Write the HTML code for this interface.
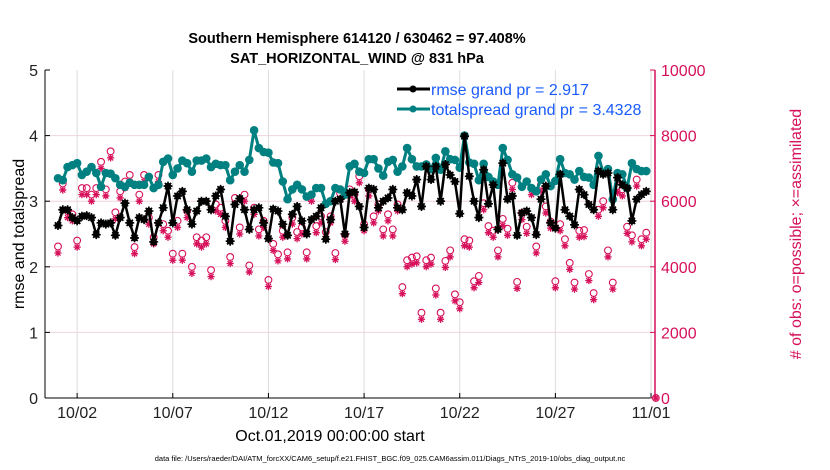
<!DOCTYPE html>
<html><head><meta charset="utf-8"><style>
html,body{margin:0;padding:0;background:#fff;}
svg{display:block;font-family:"Liberation Sans",Arial,sans-serif;}
</style></head><body>
<svg id="chart" width="830" height="470" viewBox="0 0 830 470" xmlns="http://www.w3.org/2000/svg">
<text x="357" y="43" text-anchor="middle" font-size="14.5" font-weight="bold">Southern Hemisphere 614120 / 630462 = 97.408%</text>
<text x="357" y="63" text-anchor="middle" font-size="14.5" font-weight="bold">SAT_HORIZONTAL_WIND @ 831 hPa</text>
<g id="grid"></g>
<g id="marks"></g>
<g id="axes"></g>
<text transform="translate(24,234) rotate(-90)" text-anchor="middle" font-size="16">rmse and totalspread</text>
<text transform="translate(801,234) rotate(-90)" text-anchor="middle" font-size="16" fill="#d6105a"># of obs: o=possible; ×=assimilated</text>
<text x="330" y="441" text-anchor="middle" font-size="16">Oct.01,2019 00:00:00 start</text>
<text x="390" y="461" text-anchor="middle" font-size="7.5">data file: /Users/raeder/DAI/ATM_forcXX/CAM6_setup/f.e21.FHIST_BGC.f09_025.CAM6assim.011/Diags_NTrS_2019-10/obs_diag_output.nc</text>
<g>
<line x1="397" y1="89" x2="430" y2="89" stroke="#000" stroke-width="3"/><circle cx="413" cy="89" r="3.5" fill="#000"/>
<text x="431" y="95" font-size="16" fill="#1a5cff">rmse grand pr = 2.917</text>
<line x1="397" y1="109" x2="430" y2="109" stroke="#008080" stroke-width="3"/><circle cx="413" cy="109" r="3.5" fill="#008080"/>
<text x="431" y="115" font-size="16" fill="#1a5cff">totalspread grand pr = 3.4328</text>
</g>
</svg>
<script>
const rmse=[2.63,2.87,2.87,2.75,2.7,2.77,2.78,2.75,2.49,2.67,2.65,2.67,2.48,2.75,2.97,2.67,2.44,2.75,2.72,2.85,2.38,2.67,2.9,3.23,2.67,3.08,3.15,2.87,2.65,2.85,3.0,3.0,2.87,3.08,3.18,2.77,2.39,2.95,3.04,2.87,2.57,
2.87,2.9,2.67,2.43,2.88,2.85,2.65,2.48,2.8,2.92,2.7,2.5,2.72,2.77,2.9,2.42,2.72,3.0,3.03,2.5,3.13,3.14,2.92,2.6,3.2,3.18,2.9,3.0,3.05,3.18,2.9,2.87,3.13,3.08,3.33,2.92,3.53,3.33,3.53,3.0,3.56,
3.4,3.3,2.81,3.99,3.38,3.0,2.75,3.48,2.96,3.25,2.57,3.58,3.03,3.08,2.48,2.82,2.85,2.75,2.49,3.03,3.23,2.67,2.59,3.41,2.87,2.77,2.64,3.18,3.1,2.95,2.87,3.46,3.41,3.43,2.87,3.36,3.25,3.2,2.7,3.03,3.1,3.15];
const spread=[3.35,3.32,3.52,3.55,3.58,3.4,3.45,3.52,3.43,3.22,3.43,3.42,3.35,3.25,3.22,3.28,3.25,3.25,3.25,3.37,3.2,3.25,3.6,3.65,3.4,3.5,3.62,3.58,3.45,3.62,3.62,3.65,3.52,3.57,3.55,3.55,3.32,3.45,3.55,3.45,3.63,
4.08,3.81,3.75,3.74,3.59,3.58,3.3,3.03,3.18,3.25,3.18,3.07,3.1,3.2,3.2,2.96,3.0,3.2,3.18,3.1,3.53,3.57,3.45,3.43,3.64,3.64,3.5,3.39,3.6,3.63,3.45,3.53,3.81,3.64,3.53,3.53,3.56,3.49,3.66,3.48,3.76,
3.64,3.63,3.51,4.0,3.59,3.57,3.32,3.57,3.37,3.3,3.25,3.81,3.63,3.41,3.36,3.22,3.3,3.2,3.15,3.33,3.41,3.23,3.31,3.64,3.43,3.41,3.33,3.46,3.37,3.36,3.25,3.69,3.43,3.49,3.03,3.43,3.41,3.2,3.58,3.49,3.46,3.46];
const obsPossible=[4620,6540,5700,5600,4800,6400,6400,6200,6400,7200,6360,7520,5660,6300,6600,6800,4600,6200,6800,5500,4900,6800,5300,5100,4400,5400,4400,5700,4000,4900,4800,4900,3900,5900,5800,5400,4300,6100,5200,6200,4040,
5800,5140,5400,3600,4700,4380,5100,4440,5500,5060,5200,4440,6200,5240,5540,5060,5540,4420,6240,4980,6360,6200,6760,5300,6360,5540,5900,5140,5600,5140,5900,3380,4200,4280,4320,2600,4200,4280,3340,2600,4180,
4500,3160,2920,4840,4800,3560,3720,5940,5240,5100,4500,5460,5160,6560,3540,5640,5220,6400,4620,6500,5840,5380,3560,5300,4840,4120,3520,5100,5120,3780,3200,5740,6000,4500,3520,6460,6360,5220,4960,6660,4840,5040,0];
const obsAssim=[4420,6340,5500,5400,4600,6200,6200,6000,6200,7000,6160,7320,5460,6100,6400,6600,4400,6000,6600,5300,4700,6600,5100,4900,4200,5200,4200,5500,3800,4700,4600,4700,3700,5700,5600,5200,4100,5900,5000,6000,3840,
5600,4940,5200,3400,4500,4180,4900,4240,5300,4860,5000,4240,6000,5040,5340,4860,5340,4220,6040,4780,6160,6000,6560,5100,6160,5340,5700,4940,5400,4940,5700,3180,4000,4080,4120,2400,4000,4080,3140,2400,3980,
4300,2960,2720,4640,4600,3360,3520,5740,5040,4900,4300,5260,4960,6360,3340,5440,5020,6200,4420,6300,5640,5180,3360,5100,4640,3920,3320,4900,4920,3580,3000,5540,5800,4300,3320,6260,6160,5020,4760,6460,4640,4840,0];
const xTickDays=[1,6,11,16,21,26,31];
const xTickLabels=["10/02","10/07","10/12","10/17","10/22","10/27","11/01"];
const yTicks=[0,1,2,3,4,5];
const yRightTicks=[0,2000,4000,6000,8000,10000];

const NS="http://www.w3.org/2000/svg";
const L=45,R=655,T=70,B=398;
const xs=d=>58+d*19.13;
const ys=v=>B-(v/5)*(B-T);
const yr=v=>B-(v/10000)*(B-T);
function mk(tag,attrs,parent){const e=document.createElementNS(NS,tag);for(const k in attrs)e.setAttribute(k,attrs[k]);parent.appendChild(e);return e;}
const grid=document.getElementById('grid'),marks=document.getElementById('marks'),axes=document.getElementById('axes');
yTicks.forEach(v=>{if(v>0&&v<5){const g=mk('line',{x1:L,x2:R,y1:ys(v),y2:ys(v),stroke:'#f0d4de','stroke-width':1},grid);

}});
xTickDays.forEach(d=>{const g=mk('line',{x1:xs(d),x2:xs(d),y1:T,y2:B,stroke:'#dcdcdc','stroke-width':1},grid);

});
function starPath(cx,cy,s){let p='';for(let k=0;k<4;k++){const a=k*Math.PI/4;const dx=Math.cos(a)*s,dy=Math.sin(a)*s;p+='M'+(cx-dx)+' '+(cy-dy)+'L'+(cx+dx)+' '+(cy+dy);}return p;}
obsPossible.forEach((v,i)=>{const d=i<124?i*0.25:31.25;const c=mk('circle',{cx:xs(d),cy:yr(v),r:3.4,fill:'none',stroke:'#d6105a','stroke-width':1.1},marks);

});
obsAssim.forEach((v,i)=>{const d=i<124?i*0.25:31.25;const t=mk('path',{d:starPath(xs(d),yr(v),3.6),stroke:'#d6105a','stroke-width':1.3,fill:'none'},marks);

});
function series(arr,color,name,star){
 const pts=arr.map((v,i)=>xs(i*0.25)+','+ys(v)).join(' ');
 const pl=mk('polyline',{points:pts,fill:'none',stroke:color,'stroke-width':star?2.5:3,'stroke-linejoin':'round'},marks);
 
 
 arr.forEach((v,i)=>{
 if(star){const s=mk('path',{d:starPath(xs(i*0.25),ys(v),4.5),stroke:color,'stroke-width':1.6},marks);
 
 }
 const c=mk('circle',{cx:xs(i*0.25),cy:ys(v),r:star?3.4:4.3,fill:color},marks);
 
 });
}
series(spread,'#008080','totalspread',false);
series(rmse,'#000','rmse',true);
const a1=mk('line',{x1:L,x2:L,y1:T,y2:B,stroke:'#000','stroke-width':1},axes);


const a2=mk('line',{x1:L,x2:R,y1:B,y2:B,stroke:'#000','stroke-width':1},axes);


const a3=mk('line',{x1:R,x2:R,y1:T,y2:B,stroke:'#d6105a','stroke-width':1.5},axes);


yTicks.forEach(v=>{mk('line',{x1:L,x2:L+5,y1:ys(v),y2:ys(v),stroke:'#000'},axes);
const t=mk('text',{x:L-7,y:ys(v)+6,'text-anchor':'end','font-size':16,fill:'#222'},axes);t.textContent=v;

});
yRightTicks.forEach(v=>{mk('line',{x1:R-5,x2:R,y1:yr(v),y2:yr(v),stroke:'#d6105a'},axes);
const t=mk('text',{x:R+6,y:yr(v)+6,'font-size':16,fill:'#d6105a'},axes);t.textContent=v;

});
xTickDays.forEach((d,i)=>{mk('line',{x1:xs(d),x2:xs(d),y1:B-5,y2:B,stroke:'#000'},axes);
const t=mk('text',{x:xs(d),y:B+20,'text-anchor':'middle','font-size':16,fill:'#222'},axes);t.textContent=xTickLabels[i];

});
</script>
</body></html>
